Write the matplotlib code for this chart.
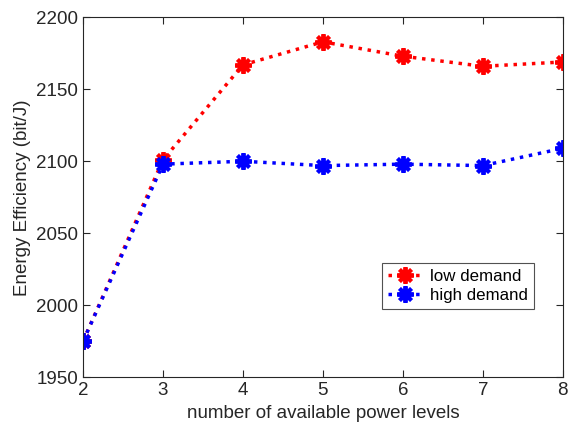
import matplotlib
matplotlib.use("Agg")
import matplotlib.pyplot as plt

plt.rcParams['font.family'] = ['Liberation Sans', 'DejaVu Sans']

levels = [2, 3, 4, 5, 6, 7, 8]
low_demand = [1975, 2101, 2167, 2183, 2173, 2166, 2169]
high_demand = [1975, 2098, 2100, 2097, 2098, 2097, 2109]

fig = plt.figure(figsize=(5.69, 4.34), dpi=100)
ax = fig.add_axes([0.146, 0.131, 0.843, 0.829])

ax.plot(levels, low_demand, color='red', linestyle=':', linewidth=2.5,
        marker=(8, 2, 0), markersize=12, markeredgewidth=2.8, label='low demand')
ax.plot(levels, high_demand, color='blue', linestyle=':', linewidth=2.5,
        marker=(8, 2, 0), markersize=12, markeredgewidth=2.8, label='high demand')

ax.set_xlim(2, 8)
ax.set_ylim(1950, 2200)
ax.set_xticks(levels)
ax.set_yticks([1950, 2000, 2050, 2100, 2150, 2200])
ax.tick_params(direction='in', top=True, right=True, labelsize=13.5,
               colors='#262626', length=5)
for s in ax.spines.values():
    s.set_color('#262626')
    s.set_linewidth(0.8)

ax.set_xlabel('number of available power levels', fontsize=13.5, color='#262626')
ax.set_ylabel('Energy Efficiency (bit/J)', fontsize=13.5, color='#262626')

leg = ax.legend(loc='lower left', bbox_to_anchor=(0.623, 0.19), fontsize=12.2,
                fancybox=False, edgecolor='#262626', handlelength=2.0,
                borderpad=0.35, labelspacing=0.25, handletextpad=0.5,
                borderaxespad=0)
leg.get_frame().set_linewidth(0.8)

fig.savefig('out.png', dpi=100)
